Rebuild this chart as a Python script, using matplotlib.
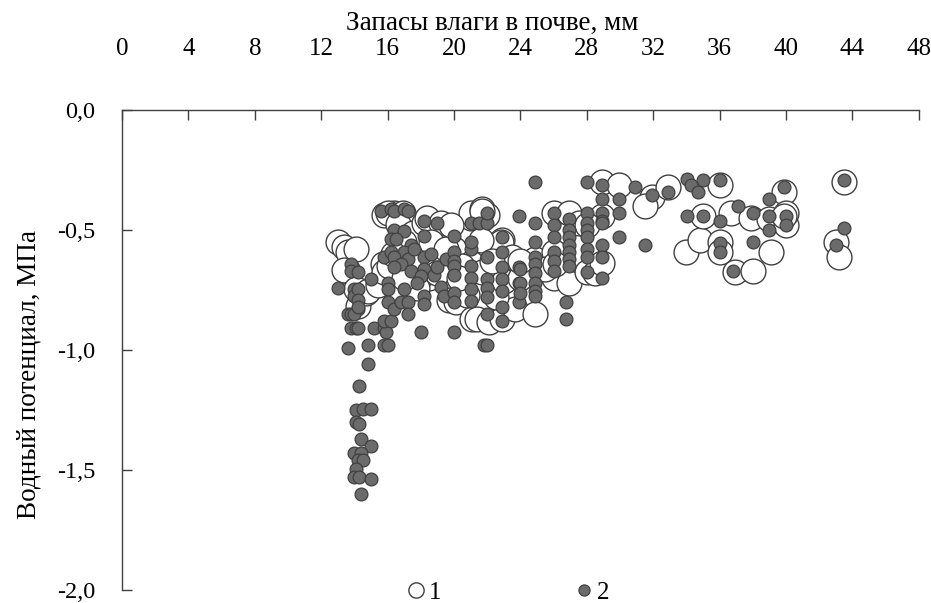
import matplotlib
matplotlib.use('Agg')
import matplotlib.pyplot as plt
from matplotlib.lines import Line2D
from matplotlib.ticker import FuncFormatter

plt.rcParams['font.family'] = ['Liberation Serif', 'DejaVu Serif']

# series 1 - open circles (x: moisture stock, mm; y: water potential, MPa)
s1_x = [13.0, 13.35, 13.6, 13.6, 13.35, 14.1, 14.2, 14.1, 14.7, 14.8, 15.4,
        15.7, 15.8, 16.1, 15.8, 16.4, 16.0, 16.9, 16.6, 17.5, 17.0, 18.2,
        18.4, 19.2, 18.6, 18.5, 18.1, 17.3, 19.7, 20.1, 20.0, 21.0, 21.0,
        21.7, 22.0, 21.7, 21.0, 21.7, 20.5, 22.9, 22.8, 23.5, 21.1, 21.4,
        22.1, 22.9, 23.7, 22.5, 23.0, 21.6, 19.5, 17.8, 20.8, 17.0, 19.0,
        20.3, 22.3, 16.3, 19.8,
        24.9, 24.9, 24.0, 24.0, 26.0, 26.9, 26.0, 26.0, 26.9, 28.0, 28.5,
        28.9, 28.9, 28.9, 29.95, 31.9, 31.5, 32.9, 27.5, 28.0, 25.5, 26.1,
        34.0, 34.8, 35.0, 36.0, 36.0, 36.0, 36.7, 37.9, 39.0, 39.9, 40.0,
        40.0, 39.1, 36.9, 38.0, 43.5, 43.0, 43.2, 39.9]
s1_y = [-0.55, -0.57, -0.59, -0.67, -0.665, -0.58, -0.815, -0.745, -0.76, -0.755, -0.73,
        -0.64, -0.675, -0.65, -0.435, -0.43, -0.43, -0.43, -0.475, -0.51, -0.55, -0.47,
        -0.45, -0.47, -0.55, -0.70, -0.685, -0.62, -0.79, -0.80, -0.58, -0.45, -0.43,
        -0.41, -0.435, -0.42, -0.635, -0.675, -0.65, -0.54, -0.55, -0.61, -0.87, -0.87,
        -0.885, -0.87, -0.83, -0.78, -0.71, -0.54, -0.58, -0.74, -0.77, -0.70, -0.68,
        -0.70, -0.63, -0.60, -0.48,
        -0.62, -0.85, -0.70, -0.63, -0.43, -0.43, -0.59, -0.70, -0.72, -0.675, -0.68,
        -0.44, -0.635, -0.30, -0.31, -0.36, -0.40, -0.32, -0.47, -0.48, -0.66, -0.64,
        -0.59, -0.54, -0.44, -0.31, -0.55, -0.59, -0.43, -0.45, -0.455, -0.34, -0.48,
        -0.43, -0.59, -0.675, -0.67, -0.30, -0.55, -0.61, -0.44]

# series 2 - filled circles
s2_x = [13.8, 13.8, 13.0, 13.95, 13.95, 14.2, 13.6, 13.8, 13.95, 13.8, 14.1,
        13.6, 14.2, 14.2, 14.2, 14.2, 14.2, 14.8, 14.8, 15.0, 15.2, 15.8,
        15.9, 15.8, 16.2, 15.8, 16.0, 15.8, 16.0, 16.0, 16.0, 16.4,
        14.25, 14.07, 14.5, 14.98, 14.07, 14.3, 14.37, 14.98, 13.95, 14.37,
        14.2, 14.5, 14.1, 13.95, 14.25, 14.98, 14.37,
        15.6, 16.2, 16.4, 17.0, 17.2, 16.4, 17.0, 16.2, 16.5, 17.4, 17.0,
        16.2, 16.4, 17.2, 16.8, 16.4, 17.4, 16.8, 17.2, 17.0, 17.2, 18.2,
        18.2, 18.2, 18.2, 18.0, 18.8, 19.0, 19.0, 18.2, 18.2, 19.2, 19.4,
        18.0, 17.6, 18.6, 19.5, 17.8,
        20.0, 20.0, 20.0, 20.0, 20.0, 20.0, 20.0, 20.0,
        21.0, 21.5, 22.0, 22.0, 21.0, 21.0, 21.0, 21.0, 21.0, 21.0,
        22.0, 22.0, 22.0, 22.0, 22.0, 21.8, 22.0,
        22.9, 22.9, 22.9, 22.9, 22.9, 22.9, 22.9,
        23.9, 23.9, 23.9, 23.9, 24.0, 24.0, 24.0,
        24.9, 24.9, 24.9, 24.9, 24.9, 24.9, 24.9, 24.9, 24.9,
        26.0, 26.0, 26.0, 26.0, 26.0, 26.0, 26.75, 26.75,
        26.9, 26.9, 26.9, 26.9, 26.9, 26.9, 26.9,
        28.0, 28.0, 28.0, 28.0, 28.0, 28.0, 28.0, 28.0,
        28.9, 28.9, 28.9, 28.9, 28.9, 28.9, 28.9, 28.9,
        29.95, 29.95, 29.95, 30.9, 31.9, 31.5, 32.9,
        34.06, 34.3, 34.7, 35.0, 36.0, 34.06, 35.0, 36.0, 37.1, 36.0, 36.0,
        38.0, 39.0, 39.9, 39.0, 40.0, 40.0, 39.0, 38.0, 36.8, 43.5, 43.0, 43.5]
s2_y = [-0.64, -0.67, -0.74, -0.745, -0.775, -0.83, -0.85, -0.85, -0.85, -0.91, -0.91,
        -0.99, -0.675, -0.745, -0.79, -0.82, -0.91, -0.98, -1.06, -0.705, -0.91, -0.91,
        -0.925, -0.88, -0.88, -0.98, -0.98, -0.61, -0.72, -0.745, -0.80, -0.83,
        -1.15, -1.25, -1.245, -1.245, -1.30, -1.31, -1.37, -1.40, -1.43, -1.43,
        -1.46, -1.46, -1.495, -1.53, -1.53, -1.54, -1.60,
        -0.42, -0.41, -0.42, -0.41, -0.42, -0.50, -0.505, -0.535, -0.535, -0.56, -0.59,
        -0.59, -0.61, -0.62, -0.64, -0.655, -0.67, -0.80, -0.80, -0.745, -0.85, -0.46,
        -0.525, -0.61, -0.66, -0.69, -0.685, -0.655, -0.47, -0.775, -0.81, -0.735, -0.775,
        -0.925, -0.58, -0.60, -0.62, -0.72,
        -0.525, -0.59, -0.63, -0.65, -0.685, -0.925, -0.76, -0.80,
        -0.47, -0.47, -0.47, -0.43, -0.58, -0.65, -0.70, -0.745, -0.795, -0.55,
        -0.61, -0.705, -0.74, -0.78, -0.85, -0.98, -0.98,
        -0.53, -0.59, -0.655, -0.705, -0.755, -0.82, -0.88,
        -0.44, -0.655, -0.72, -0.80, -0.66, -0.72, -0.76,
        -0.30, -0.47, -0.55, -0.61, -0.64, -0.68, -0.72, -0.755, -0.775,
        -0.43, -0.48, -0.53, -0.59, -0.63, -0.67, -0.80, -0.87,
        -0.455, -0.50, -0.53, -0.56, -0.59, -0.62, -0.65,
        -0.30, -0.43, -0.47, -0.50, -0.53, -0.58, -0.61, -0.675,
        -0.31, -0.37, -0.43, -0.46, -0.47, -0.56, -0.61, -0.70,
        -0.37, -0.43, -0.53, -0.32, -0.355, -0.56, -0.34,
        -0.285, -0.31, -0.34, -0.29, -0.29, -0.44, -0.44, -0.46, -0.40, -0.555, -0.59,
        -0.43, -0.44, -0.32, -0.37, -0.44, -0.48, -0.50, -0.55, -0.67, -0.29, -0.56, -0.49]

x_ticks = list(range(0, 49, 4))
y_ticks = [0.0, -0.5, -1.0, -1.5, -2.0]

EDGE = '#404040'
FILL = '#6b6b6b'

fig = plt.figure(figsize=(9.31, 6.03), dpi=100)
ax = fig.add_axes([0.131, 0.022, 0.856, 0.795])

ax.scatter(s1_x, s1_y, s=320, facecolor='white', edgecolor=EDGE, linewidth=1.0, zorder=2)
ax.scatter(s2_x, s2_y, s=85, facecolor=FILL, edgecolor=EDGE, linewidth=0.9, zorder=3)

ax.set_xlim(0, 48)
ax.set_ylim(-2.0, 0.0)
ax.set_xticks(x_ticks)
ax.set_yticks(y_ticks)
ax.yaxis.set_major_formatter(FuncFormatter(lambda v, p: f'{v:.1f}'.replace('.', ',')))

ax.xaxis.tick_top()
ax.xaxis.set_label_position('top')
ax.tick_params(axis='x', direction='in', length=7, width=1, color=EDGE, pad=36, labelsize=18)
ax.tick_params(axis='y', direction='in', length=7, width=1, color=EDGE, pad=19, labelsize=17.5)

for side in ['right', 'bottom']:
    ax.spines[side].set_visible(False)
for side in ['left', 'top']:
    ax.spines[side].set_color(EDGE)
    ax.spines[side].set_linewidth(1.0)

ax.set_xlabel('Запасы влаги в почве, мм', fontsize=19.5, labelpad=6)
ax.set_ylabel('Водный потенциал, МПа', fontsize=19.5, labelpad=11)
ax.xaxis.label.set_x(0.464)
ax.yaxis.label.set_y(0.45)

handles = [
    Line2D([], [], ls='none', marker='o', markersize=11, markerfacecolor='white',
           markeredgecolor=EDGE, markeredgewidth=1.0),
    Line2D([], [], ls='none', marker='o', markersize=8, markerfacecolor=FILL,
           markeredgecolor=EDGE, markeredgewidth=0.9),
]
ax.legend(handles, ['1', '2'], ncol=2, frameon=False, fontsize=18,
          loc='center', bbox_to_anchor=(0.484, -0.006), handlelength=0.8,
          handletextpad=0.1, columnspacing=5.3)

fig.savefig('out.png', dpi=100)
